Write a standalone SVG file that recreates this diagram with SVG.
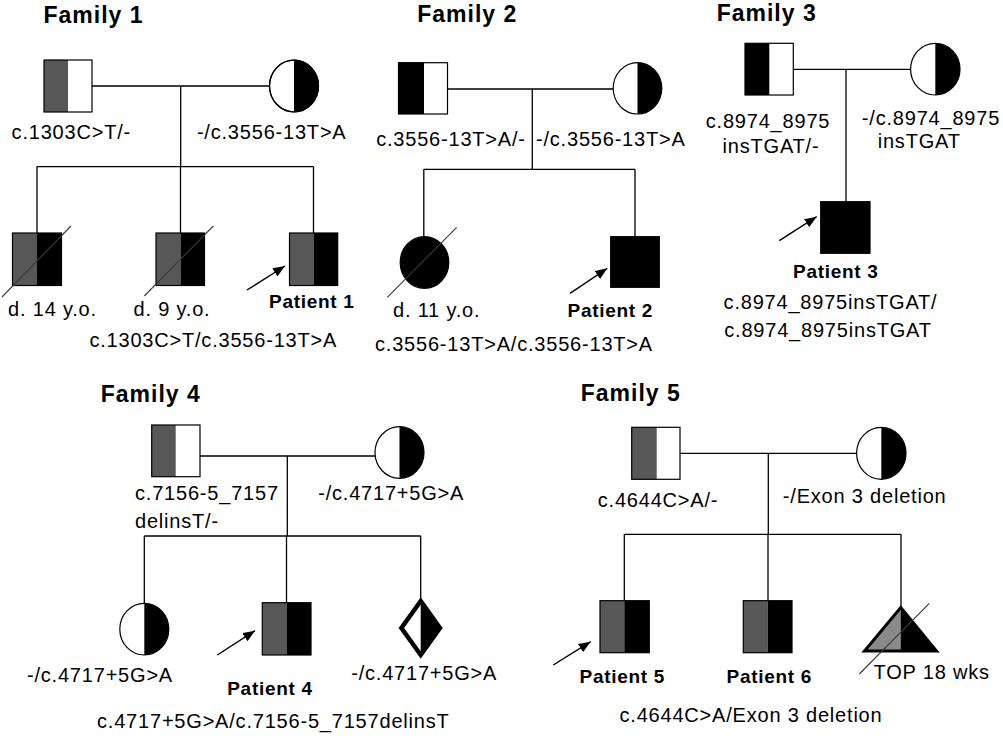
<svg xmlns="http://www.w3.org/2000/svg" width="1003" height="736" viewBox="0 0 1003 736">
<style>
.bg{fill:#fff}
.ln{stroke:#000;stroke-width:1.3;fill:none}
.sym{stroke:#000;stroke-width:1.2}
.w{fill:#fff}
.b{fill:#000}
.g{fill:#575757}
.lg{fill:#8a8a8a}
.slash{stroke:#3a3a3a;stroke-width:1.1}
.arr{stroke:#000;stroke-width:1.4;fill:none}
text{font-family:"Liberation Sans",Arial,sans-serif;fill:#000}
.t{font-size:20px;letter-spacing:0.8px}
.p{font-size:19px;font-weight:bold;letter-spacing:0.7px}
.h{font-size:23px;font-weight:bold;letter-spacing:1px}
.m{text-anchor:middle}
</style>
<defs>
<marker id="ah" viewBox="0 0 10 8" refX="10" refY="4" markerWidth="12" markerHeight="10" markerUnits="userSpaceOnUse" orient="auto">
<path d="M0,0 L10,4 L0,8 z" fill="#000"/>
</marker>
</defs>
<rect class="bg" x="0" y="0" width="1003" height="736"/>

<g id="connectors">
<!-- Family 1 -->
<path class="ln" d="M92,86 H269.5 M180.7,86 V166.7 M36.7,166.7 H313.5 M37,166.7 V233 M180.5,166.7 V233 M313.5,166.7 V233"/>
<line class="arr" x1="247" y1="290" x2="285" y2="266" marker-end="url(#ah)"/>
<!-- Family 2 -->
<path class="ln" d="M447.5,89 H613.2 M532.3,89 V169.3 M423.8,169.3 H635 M423.8,169.3 V236.7 M635,169.3 V236.7"/>
<line class="arr" x1="570" y1="293.3" x2="607.3" y2="268.3" marker-end="url(#ah)"/>
<!-- Family 3 -->
<path class="ln" d="M793.3,69.3 H910.6 M846,69.3 V201.7"/>
<line class="arr" x1="779.3" y1="240.7" x2="816.7" y2="216.7" marker-end="url(#ah)"/>
<!-- Family 4 -->
<path class="ln" d="M200,456 H375 M287.3,456 V536 M144.3,536 H420.7 M144.3,536 V603.3 M286.5,536 V602.7 M420.7,536 V599.3"/>
<line class="arr" x1="217.3" y1="655" x2="255" y2="630.7" marker-end="url(#ah)"/>
<!-- Family 5 -->
<path class="ln" d="M680,453.3 H856.7 M768.3,453.3 V534.3 M624.3,534.3 H901 M624.3,534.3 V600.7 M768,534.3 V600.7 M901,534.3 V606.7"/>
<line class="arr" x1="553.3" y1="665" x2="590.7" y2="641.7" marker-end="url(#ah)"/>
</g>

<!-- ===== Family 1 ===== -->
<g id="family1-title"><text class="h m" x="93.5" y="23">Family 1</text></g>
<g id="f1-father">
<rect class="w" x="44" y="60" width="48" height="52"/>
<rect class="g" x="44" y="60" width="24" height="52"/>
<rect class="sym" fill="none" x="44" y="60" width="48" height="52"/>
<text class="t m" x="71.3" y="139.3">c.1303C&gt;T/-</text>
</g>
<g id="f1-mother">
<ellipse class="w sym" cx="294" cy="86" rx="24.5" ry="25.8"/>
<path class="b" d="M294,60.2 A24.5,25.8 0 0 1 294,111.8 Z"/>
<ellipse class="sym" fill="none" cx="294" cy="86" rx="24.5" ry="25.8"/>
<text class="t m" x="271.7" y="139.3">-/c.3556-13T&gt;A</text>
</g>
<g id="f1-child1">
<rect class="g" x="12.5" y="233" width="24.5" height="52.5"/>
<rect class="b" x="37" y="233" width="24.5" height="52.5"/>
<rect class="sym" fill="none" x="12.5" y="233" width="49" height="52.5"/>
<line class="slash" x1="2" y1="297" x2="71" y2="226"/>
<text class="t m" x="52.5" y="316">d. 14 y.o.</text>
</g>
<g id="f1-child2">
<rect class="g" x="156" y="233" width="24.5" height="52.5"/>
<rect class="b" x="180.5" y="233" width="24" height="52.5"/>
<rect class="sym" fill="none" x="156" y="233" width="48.5" height="52.5"/>
<line class="slash" x1="144.3" y1="296" x2="213.3" y2="226"/>
<text class="t m" x="172" y="316">d. 9 y.o.</text>
</g>
<g id="f1-patient1">
<rect class="g" x="289.5" y="233" width="24" height="52.5"/>
<rect class="b" x="313.5" y="233" width="24.2" height="52.5"/>
<rect class="sym" fill="none" x="289.5" y="233" width="48.2" height="52.5"/>
<text class="p m" x="311.8" y="308.3">Patient 1</text>
<text class="t m" x="213.3" y="346.7">c.1303C&gt;T/c.3556-13T&gt;A</text>
</g>

<!-- ===== Family 2 ===== -->
<g id="family2-title"><text class="h m" x="467.3" y="22">Family 2</text></g>
<g id="f2-father">
<rect class="w" x="398.5" y="62.7" width="49" height="51.3"/>
<rect class="b" x="398.5" y="62.7" width="25.5" height="51.3"/>
<rect class="sym" fill="none" x="398.5" y="62.7" width="49" height="51.3"/>
<text class="t m" x="451" y="145.7">c.3556-13T&gt;A/-</text>
</g>
<g id="f2-mother">
<ellipse class="w" cx="637.5" cy="88.3" rx="24.3" ry="25.7"/>
<path class="b" d="M637.5,62.6 A24.3,25.7 0 0 1 637.5,114 Z"/>
<ellipse class="sym" fill="none" cx="637.5" cy="88.3" rx="24.3" ry="25.7"/>
<text class="t m" x="610.8" y="145.7">-/c.3556-13T&gt;A</text>
</g>
<g id="f2-daughter">
<ellipse class="b sym" cx="424.5" cy="262.5" rx="24.3" ry="25.8"/>
<line class="slash" x1="387.3" y1="297.3" x2="456.7" y2="227.3"/>
<text class="t m" x="436.7" y="316.7">d. 11 y.o.</text>
</g>
<g id="f2-patient2">
<rect class="b sym" x="610.7" y="236.7" width="48.6" height="50.6"/>
<text class="p m" x="610.3" y="316.5">Patient 2</text>
<text class="t m" x="514" y="350.7">c.3556-13T&gt;A/c.3556-13T&gt;A</text>
</g>

<!-- ===== Family 3 ===== -->
<g id="family3-title"><text class="h m" x="766.7" y="21">Family 3</text></g>
<g id="f3-father">
<rect class="w" x="745" y="43.3" width="48.3" height="51.7"/>
<rect class="b" x="745" y="43.3" width="24.3" height="51.7"/>
<rect class="sym" fill="none" x="745" y="43.3" width="48.3" height="51.7"/>
<text class="t m" x="768" y="128.3">c.8974_8975</text>
<text class="t m" x="771" y="152.7">insTGAT/-</text>
</g>
<g id="f3-mother">
<ellipse class="w" cx="935.3" cy="69.2" rx="24.7" ry="25.8"/>
<path class="b" d="M935.3,43.4 A24.7,25.8 0 0 1 935.3,95 Z"/>
<ellipse class="sym" fill="none" cx="935.3" cy="69.2" rx="24.7" ry="25.8"/>
<text class="t m" x="931" y="125">-/c.8974_8975</text>
<text class="t m" x="919.2" y="148.3">insTGAT</text>
</g>
<g id="f3-patient3">
<rect class="b sym" x="820.7" y="201.7" width="49.3" height="51.6"/>
<text class="p m" x="835.8" y="278.3">Patient 3</text>
<text class="t m" x="830.5" y="308.5">c.8974_8975insTGAT/</text>
<text class="t m" x="828" y="337.3">c.8974_8975insTGAT</text>
</g>

<!-- ===== Family 4 ===== -->
<g id="family4-title"><text class="h m" x="150.8" y="401.7">Family 4</text></g>
<g id="f4-father">
<rect class="w" x="151.7" y="425" width="48.3" height="51.7"/>
<rect class="g" x="151.7" y="425" width="24" height="51.7"/>
<rect class="sym" fill="none" x="151.7" y="425" width="48.3" height="51.7"/>
<text class="t" x="135" y="500">c.7156-5_7157</text>
<text class="t" x="135" y="528.3">delinsT/-</text>
</g>
<g id="f4-mother">
<ellipse class="w" cx="399.5" cy="452.5" rx="24.5" ry="25.8"/>
<path class="b" d="M399.5,426.7 A24.5,25.8 0 0 1 399.5,478.3 Z"/>
<ellipse class="sym" fill="none" cx="399.5" cy="452.5" rx="24.5" ry="25.8"/>
<text class="t m" x="391.2" y="500">-/c.4717+5G&gt;A</text>
</g>
<g id="f4-daughter">
<ellipse class="w" cx="144.3" cy="629.2" rx="24.5" ry="25.8"/>
<path class="b" d="M144.3,603.4 A24.5,25.8 0 0 1 144.3,655 Z"/>
<ellipse class="sym" fill="none" cx="144.3" cy="629.2" rx="24.5" ry="25.8"/>
<text class="t m" x="100" y="681.7">-/c.4717+5G&gt;A</text>
</g>
<g id="f4-patient4">
<rect class="g" x="262.3" y="602.7" width="24.2" height="52.3"/>
<rect class="b" x="286.5" y="602.7" width="24.5" height="52.3"/>
<rect class="sym" fill="none" x="262.3" y="602.7" width="48.7" height="52.3"/>
<text class="p m" x="270" y="695">Patient 4</text>
<text class="t m" x="273.3" y="728.3">c.4717+5G&gt;A/c.7156-5_7157delinsT</text>
</g>
<g id="f4-diamond">
<polygon points="420.7,601 440,628 420.7,655 401.4,628" fill="#fff" stroke="#000" stroke-width="4.5" stroke-linejoin="miter"/>
<polygon points="420.7,601 440,628 420.7,655" fill="#000"/>
<text class="t m" x="424.2" y="680">-/c.4717+5G&gt;A</text>
</g>

<!-- ===== Family 5 ===== -->
<g id="family5-title"><text class="h m" x="630.8" y="400.7">Family 5</text></g>
<g id="f5-father">
<rect class="w" x="631.7" y="427.3" width="48.3" height="52"/>
<rect class="g" x="631.7" y="427.3" width="25" height="52"/>
<rect class="sym" fill="none" x="631.7" y="427.3" width="48.3" height="52"/>
<text class="t m" x="658" y="506.7">c.4644C&gt;A/-</text>
</g>
<g id="f5-mother">
<ellipse class="w" cx="881.3" cy="453.3" rx="24.7" ry="26"/>
<path class="b" d="M881.3,427.3 A24.7,26 0 0 1 881.3,479.3 Z"/>
<ellipse class="sym" fill="none" cx="881.3" cy="453.3" rx="24.7" ry="26"/>
<text class="t m" x="864.7" y="503.3">-/Exon 3 deletion</text>
</g>
<g id="f5-patient5">
<rect class="g" x="600" y="600.7" width="24.3" height="52"/>
<rect class="b" x="624.3" y="600.7" width="25" height="52"/>
<rect class="sym" fill="none" x="600" y="600.7" width="49.3" height="52"/>
<text class="p m" x="622.3" y="683.3">Patient 5</text>
</g>
<g id="f5-patient6">
<rect class="g" x="743.3" y="600.7" width="24.4" height="52"/>
<rect class="b" x="767.7" y="600.7" width="24.3" height="52"/>
<rect class="sym" fill="none" x="743.3" y="600.7" width="48.7" height="52"/>
<text class="p m" x="769.3" y="683.3">Patient 6</text>
<text class="t m" x="751" y="721.7">c.4644C&gt;A/Exon 3 deletion</text>
</g>
<g id="f5-top">
<polygon class="lg" points="900.7,607.5 900.7,651 864.5,651"/>
<polygon class="b" points="900.7,607.5 936.5,651 900.7,651"/>
<polygon points="900.7,607.5 936.5,651 864.5,651" fill="none" stroke="#000" stroke-width="3" stroke-linejoin="miter"/>
<line class="slash" x1="859.3" y1="674" x2="929.3" y2="603.3"/>
<text class="t m" x="931.7" y="679.3">TOP 18 wks</text>
</g>
</svg>
